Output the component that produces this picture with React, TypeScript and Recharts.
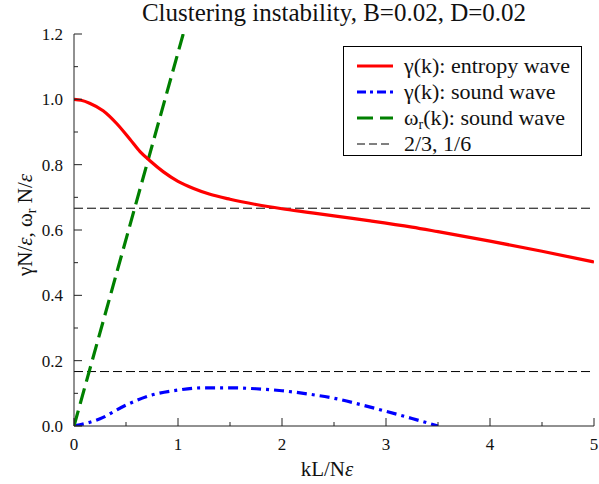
import React from 'react';
import { LineChart, Line, XAxis, YAxis, ReferenceLine, Legend } from 'recharts';

const entropyK = [0, 0.07, 0.15, 0.28, 0.41, 0.54, 0.635, 0.73, 0.86, 1.0, 1.15, 1.3, 1.5, 1.75, 2.0, 2.25, 2.5, 2.85, 3.25, 3.5, 4.0, 4.5, 5.0];
const entropyGamma = [1.0, 0.997, 0.988, 0.965, 0.926, 0.877, 0.84, 0.812, 0.778, 0.749, 0.727, 0.71, 0.694, 0.678, 0.665, 0.654, 0.643, 0.628, 0.609, 0.595, 0.566, 0.535, 0.502];

const soundK = [0, 0.25, 0.5, 0.75, 1.0, 1.25, 1.5, 1.75, 2.0, 2.25, 2.5, 2.75, 3.0, 3.25, 3.5];
const soundGamma = [0, 0.022, 0.064, 0.095, 0.11, 0.117, 0.117, 0.114, 0.108, 0.098, 0.085, 0.066, 0.045, 0.023, 0];

const omegaK = [0, 1.05];
const omegaR = [0, 1.2];

const refLevels = [2 / 3, 1 / 6];

const xTicks = [0, 0.5, 1, 1.5, 2, 2.5, 3, 3.5, 4, 4.5, 5];
const yTicks = [0, 0.1, 0.2, 0.3, 0.4, 0.5, 0.6, 0.7, 0.8, 0.9, 1.0, 1.1, 1.2];

const seriesNames = ['γ(k): entropy wave', 'γ(k): sound wave', 'ω', '2/3, 1/6'];
const titleText = 'Clustering instability, B=0.02, D=0.02';

const entropyData = entropyK.map((k, i) => ({ k, v: entropyGamma[i] }));
const soundData = soundK.map((k, i) => ({ k, v: soundGamma[i] }));
const omegaData = omegaK.map((k, i) => ({ k, v: omegaR[i] }));

const FONT = '"Liberation Serif", "Times New Roman", serif';
const AX = '#222';

const isMajorX = (v: number) => Math.abs(v - Math.round(v)) < 1e-6;
const isMajorY = (v: number) => Math.round(v * 10) % 2 === 0;

const BottomTick = (props: any) => {
  const { x, y, payload } = props;
  const v = payload.value;
  const major = isMajorX(v);
  return (
    <g>
      <line x1={x} x2={x} y1={y} y2={y - (major ? 8 : 4)} stroke={AX} strokeWidth={1} />
      {major && (
        <text x={x} y={y + 24} textAnchor="middle" fontSize={17} fontFamily={FONT} fill="#111">
          {String(v)}
        </text>
      )}
    </g>
  );
};

const TopTick = (props: any) => {
  const { x, y, payload } = props;
  const major = isMajorX(payload.value);
  return <line x1={x} x2={x} y1={y} y2={y + (major ? 8 : 4)} stroke={AX} strokeWidth={1} />;
};

const LeftTick = (props: any) => {
  const { x, y, payload } = props;
  const v = payload.value;
  const major = isMajorY(v);
  return (
    <g>
      <line x1={x} x2={x + (major ? 8 : 4)} y1={y} y2={y} stroke={AX} strokeWidth={1} />
      {major && (
        <text x={x - 11} y={y + 6} textAnchor="end" fontSize={17} fontFamily={FONT} fill="#111">
          {v.toFixed(1)}
        </text>
      )}
    </g>
  );
};

const RightTick = (props: any) => {
  const { x, y, payload } = props;
  const major = isMajorY(payload.value);
  return <line x1={x} x2={x - (major ? 8 : 4)} y1={y} y2={y} stroke={AX} strokeWidth={1} />;
};

const YLabel = () => (
  <text
    x={0}
    y={0}
    transform="translate(32,225) rotate(-90)"
    textAnchor="middle"
    fontSize={21}
    fontFamily={FONT}
    fill="#111"
  >
    <tspan>γN/</tspan>
    <tspan fontStyle="italic">ε</tspan>
    <tspan>, ω</tspan>
    <tspan fontSize={14} dy={4}>r</tspan>
    <tspan dy={-4}> N/</tspan>
    <tspan fontStyle="italic">ε</tspan>
  </text>
);

const XLabel = () => (
  <text x={327} y={476} textAnchor="middle" fontSize={21} fontFamily={FONT} fill="#111">
    <tspan>kL/N</tspan>
    <tspan fontStyle="italic">ε</tspan>
  </text>
);

const LegendBox = () => {
  const rows = [
    { stroke: '#ff0000', dash: undefined, w: 3 },
    { stroke: '#0000ff', dash: '9 4 3 4', w: 3 },
    { stroke: '#008000', dash: '16 7', w: 3 },
    { stroke: '#000000', dash: '8 4', w: 1 },
  ];
  return (
    <svg width={239} height={110} style={{ display: 'block' }}>
      <rect x={0.5} y={0.5} width={238} height={109} fill="#fff" stroke="#000" strokeWidth={1} />
      {rows.map((r, i) => {
        const ly = 20 + i * 26;
        return (
          <g key={i}>
            <line x1={14} x2={50} y1={ly} y2={ly} stroke={r.stroke} strokeWidth={r.w} strokeDasharray={r.dash} />
            <text x={61} y={ly + 7} fontSize={22} fontFamily={FONT} fill="#111">
              {i === 2 ? (
                <>
                  <tspan>{seriesNames[2]}</tspan>
                  <tspan fontSize={14} dy={4}>r</tspan>
                  <tspan dy={-4}>(k): sound wave</tspan>
                </>
              ) : (
                seriesNames[i]
              )}
            </text>
          </g>
        );
      })}
    </svg>
  );
};

export default function App() {
  return (
    <div style={{ position: 'absolute', left: 0, top: 0, width: 599, height: 484, background: '#fff' }}>
      <svg width={599} height={34} style={{ position: 'absolute', left: 0, top: 0 }}>
        <text x={334} y={21} textAnchor="middle" fontSize={25} fontFamily={FONT} fill="#111">
          {titleText}
        </text>
      </svg>
      <LineChart
        width={599}
        height={484}
        margin={{ top: 34, right: 5, bottom: 0, left: 0 }}
        style={{ position: 'absolute', left: 0, top: 0 }}
      >
        <XAxis
          dataKey="k"
          type="number"
          domain={[0, 5]}
          ticks={xTicks}
          interval={0}
          allowDataOverflow
          height={58}
          tickSize={0}
          tickMargin={0}
          axisLine={{ stroke: AX, strokeWidth: 1 }}
          tickLine={false}
          tick={<BottomTick />}
          label={<XLabel />}
        />
        <XAxis
          xAxisId="top"
          orientation="top"
          dataKey="k"
          type="number"
          domain={[0, 5]}
          ticks={xTicks}
          interval={0}
          allowDataOverflow
          height={0}
          tickSize={0}
          tickMargin={0}
          axisLine={{ stroke: AX, strokeWidth: 1 }}
          tickLine={false}
          tick={<TopTick />}
        />
        <YAxis
          type="number"
          domain={[0, 1.2]}
          ticks={yTicks}
          interval={0}
          allowDataOverflow
          width={74}
          tickSize={0}
          tickMargin={0}
          axisLine={{ stroke: AX, strokeWidth: 1 }}
          tickLine={false}
          tick={<LeftTick />}
          label={<YLabel />}
        />
        <YAxis
          yAxisId="right"
          orientation="right"
          type="number"
          domain={[0, 1.2]}
          ticks={yTicks}
          interval={0}
          allowDataOverflow
          width={0}
          tickSize={0}
          tickMargin={0}
          axisLine={{ stroke: AX, strokeWidth: 1 }}
          tickLine={false}
          tick={<RightTick />}
        />
        {refLevels.map((lv) => (
          <ReferenceLine key={lv} y={lv} stroke="#000" strokeWidth={1} strokeDasharray="9 4" />
        ))}
        <Line
          data={soundData}
          dataKey="v"
          type="monotone"
          stroke="#0000ff"
          strokeWidth={3.2}
          strokeDasharray="10 5 3 5"
          dot={false}
          isAnimationActive={false}
        />
        <Line
          data={omegaData}
          dataKey="v"
          type="linear"
          stroke="#008000"
          strokeWidth={3.2}
          strokeDasharray="16 7"
          dot={false}
          isAnimationActive={false}
        />
        <Line
          data={entropyData}
          dataKey="v"
          type="monotone"
          stroke="#ff0000"
          strokeWidth={3.2}
          dot={false}
          isAnimationActive={false}
        />
        <Legend
          layout="vertical"
          align="center"
          verticalAlign="middle"
          content={<LegendBox />}
          wrapperStyle={{ position: 'absolute', left: 343, top: 46, width: 239, height: 110, margin: 0 }}
        />
      </LineChart>
    </div>
  );
}
